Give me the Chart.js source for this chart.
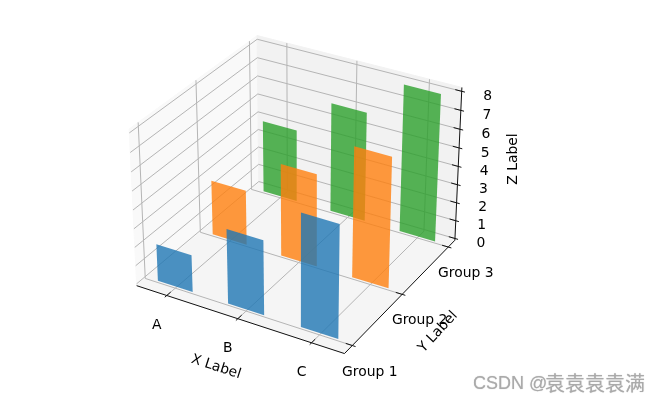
<!DOCTYPE html>
<html>
<head>
<meta charset="utf-8">
<style>
  html, body { margin: 0; padding: 0; background: #fff; }
  canvas { display: block; }
</style>
<script src="https://cdn.jsdelivr.net/npm/chart.js@4/dist/chart.umd.min.js"></script>
</head>
<body>
<canvas id="chart" width="660" height="402"></canvas>
<script>
const categories = ["A", "B", "C"];
const groups = ["Group 1", "Group 2", "Group 3"];
const group1 = [2, 4, 6];
const group2 = [3, 5, 7];
const group3 = [4, 6, 8];
const zTicks = [0, 1, 2, 3, 4, 5, 6, 7, 8];
const barColors = ["rgba(31,119,180,0.8)", "rgba(255,127,14,0.8)", "rgba(44,160,44,0.8)"];

const barWidth = 0.5;
const xLim = [-0.435, 2.435];
const yLim = [-0.15, 2.15];
const zLim = [-0.1, 8.2];

// same camera as a default mplot3d view, elev 30, azim -60, dist 10
const box = [1.1905, 1.1905, 0.8929];
const u = [0.866, 0.5, 0];
const v = [-0.25, 0.433, 0.866];
const w = [0.433, -0.75, 0.5];
const dist = 10;

function dot(a, b) {
  return a[0] * b[0] + a[1] * b[1] + a[2] * b[2];
}

function project(x, y, z) {
  const d = [
    ((x - xLim[0]) / (xLim[1] - xLim[0]) - 0.5) * box[0],
    ((y - yLim[0]) / (yLim[1] - yLim[0]) - 0.5) * box[1],
    ((z - zLim[0]) / (zLim[1] - zLim[0]) - 0.5) * box[2],
  ];
  const den = dist - dot(w, d);
  return { x: dot(u, d) / den, y: dot(v, d) / den };
}

const datasets = [];

function addShape(points, fill, stroke, width) {
  const closed = points.concat([points[0]]);
  datasets.push({
    data: closed.map((p) => project(p[0], p[1], p[2])),
    showLine: true,
    fill: "shape",
    backgroundColor: fill,
    borderColor: stroke,
    borderWidth: width,
    pointRadius: 0,
    order: -datasets.length,
  });
}

function addLine(a, b, color, width) {
  datasets.push({
    data: [project(a[0], a[1], a[2]), project(b[0], b[1], b[2])],
    showLine: true,
    fill: false,
    borderColor: color,
    borderWidth: width,
    pointRadius: 0,
    order: -datasets.length,
  });
}

const [x0, x1] = xLim;
const [y0, y1] = yLim;
const [z0, z1] = zLim;

// panes
addShape([[x0, y0, z0], [x0, y1, z0], [x0, y1, z1], [x0, y0, z1]], "#f9f9f9", "#f9f9f9", 1);
addShape([[x0, y1, z0], [x1, y1, z0], [x1, y1, z1], [x0, y1, z1]], "#f2f2f2", "#f2f2f2", 1);
addShape([[x0, y0, z0], [x1, y0, z0], [x1, y1, z0], [x0, y1, z0]], "#f5f5f5", "#f5f5f5", 1);

// grid
const gridColor = "#b5b5b5";
categories.forEach((c, i) => {
  addLine([i, y0, z0], [i, y1, z0], gridColor, 1);
  addLine([i, y1, z0], [i, y1, z1], gridColor, 1);
});
groups.forEach((g, j) => {
  addLine([x0, j, z0], [x1, j, z0], gridColor, 1);
  addLine([x0, j, z0], [x0, j, z1], gridColor, 1);
});
zTicks.forEach((z) => {
  addLine([x0, y0, z], [x0, y1, z], gridColor, 1);
  addLine([x0, y1, z], [x1, y1, z], gridColor, 1);
});

// bars, back group first
[[group3, 2], [group2, 1], [group1, 0]].forEach(([values, j]) => {
  values.forEach((val, i) => {
    const l = i - barWidth / 2;
    const r = i + barWidth / 2;
    addShape([[l, j, 0], [r, j, 0], [r, j, val], [l, j, val]], barColors[j], "transparent", 0);
  });
});

// axis lines and ticks
const axisColor = "#111";
addLine([x0, y0, z0], [x1, y0, z0], axisColor, 1);
addLine([x1, y0, z0], [x1, y1, z0], axisColor, 1);
addLine([x1, y1, z0], [x1, y1, z1], axisColor, 1);
const yTickLen = (y1 - y0) * 0.015;
const xTickLen = (x1 - x0) * 0.015;
categories.forEach((c, i) => addLine([i, y0 - yTickLen, z0], [i, y0 + yTickLen * 2, z0], axisColor, 1));
groups.forEach((g, j) => addLine([x1 + xTickLen, j, z0], [x1 - xTickLen * 2, j, z0], axisColor, 1));
zTicks.forEach((z) => addLine([x1 + xTickLen, y1, z], [x1 - xTickLen * 2, y1, z], axisColor, 1));

const labelsPlugin = {
  id: "labels3d",
  afterDraw(chart) {
    const c = chart.ctx;
    const sx = chart.scales.x;
    const sy = chart.scales.y;
    function at(p) {
      return [sx.getPixelForValue(p.x), sy.getPixelForValue(p.y)];
    }
    function text(str, px, py, rot) {
      c.save();
      c.translate(px, py);
      c.rotate((rot || 0) * Math.PI / 180);
      c.fillText(str, 0, 0);
      c.restore();
    }
    c.save();
    c.fillStyle = "#000";
    c.font = '13.9px "DejaVu Sans"';
    c.textAlign = "center";
    c.textBaseline = "middle";
    categories.forEach((name, i) => {
      const [px, py] = at(project(i, y0, z0));
      text(name, px - 10, py + 30);
    });
    groups.forEach((name, j) => {
      const [px, py] = at(project(x1, j, z0));
      text(name, px + 17.5, py + 26.5);
    });
    zTicks.forEach((z) => {
      const [px, py] = at(project(x1, y1, z));
      text(String(z), px + 26, py + 5);
    });
    text("X Label", 216, 367, 18);
    text("Y Label", 438, 332, -47);
    text("Z Label", 513, 159, -90);

    // watermark
    c.textAlign = "left";
    c.fillStyle = "#aaa";
    c.shadowColor = "rgba(0,0,0,0.25)";
    c.shadowBlur = 1;
    c.font = '18px "Liberation Sans"';
    c.fillText("CSDN @", 473, 384);
    c.font = '20px "Noto Sans CJK SC"';
    c.fillText("袁袁袁袁满", 545, 383);
    c.restore();
  },
};

new Chart(document.getElementById("chart"), {
  type: "scatter",
  data: { datasets: datasets },
  options: {
    responsive: false,
    animation: false,
    layout: { padding: 0 },
    scales: {
      x: { type: "linear", display: false, min: -0.14935, max: 0.18065 },
      y: { type: "linear", display: false, min: -0.10755, max: 0.09345 },
    },
    plugins: {
      legend: { display: false },
      tooltip: { enabled: false },
    },
  },
  plugins: [labelsPlugin],
});
</script>
</body>
</html>
